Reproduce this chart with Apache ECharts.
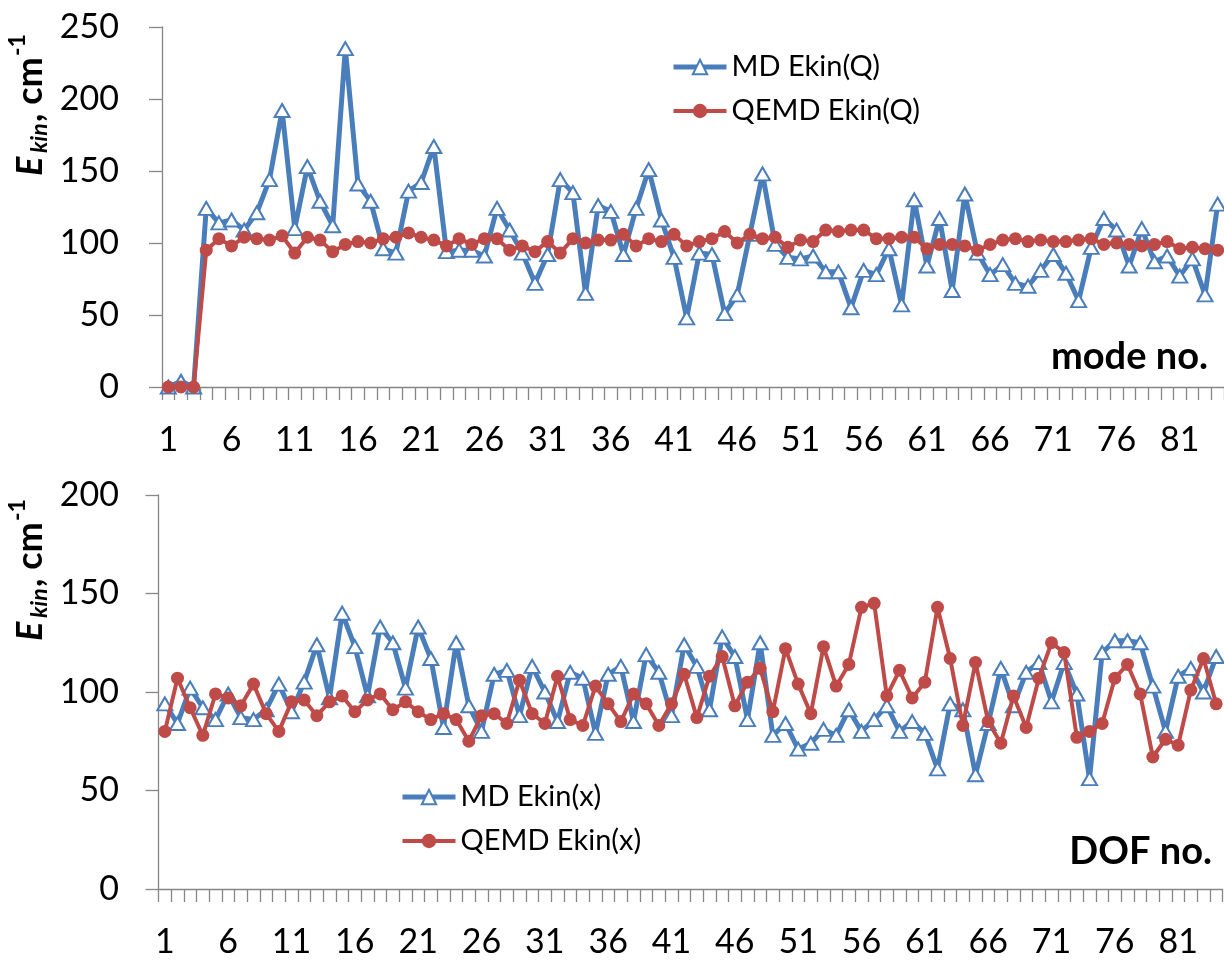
<!DOCTYPE html>
<html>
<head>
<meta charset="utf-8">
<title>Ekin per mode / DOF</title>
<script src="https://cdn.jsdelivr.net/npm/echarts@6/dist/echarts.min.js"></script>
<style>
  html, body { margin: 0; padding: 0; background: #fff; }
</style>
</head>
<body>
<div id="main" style="width: 1224px;height:960px;"></div>
<script>
// category axis (mode / DOF number)
var cats = ['1','2','3','4','5','6','7','8','9','10','11','12','13','14','15','16','17','18','19','20',
  '21','22','23','24','25','26','27','28','29','30','31','32','33','34','35','36','37','38','39','40',
  '41','42','43','44','45','46','47','48','49','50','51','52','53','54','55','56','57','58','59','60',
  '61','62','63','64','65','66','67','68','69','70','71','72','73','74','75','76','77','78','79','80',
  '81','82','83','84'];

// top panel: kinetic energy per normal mode, cm-1
var mdQ = [0, 4, 0, 124, 114, 116, 109, 121, 144, 192, 110, 153, 129, 112, 235, 141, 129, 96, 93, 136,
  142, 167, 94, 95, 95, 91, 124, 109, 93, 72, 92, 144, 135, 65, 126, 122, 92, 124, 151, 116,
  90, 48, 93, 92, 51, 64, 106, 148, 99, 90, 89, 91, 80, 80, 55, 81, 78, 96, 57, 130,
  84, 117, 67, 134, 93, 78, 85, 72, 70, 81, 92, 79, 60, 97, 117, 109, 84, 110, 87, 91,
  77, 89, 64, 127];
var qemdQ = [0, 0, 0, 95, 103, 98, 104, 103, 102, 105, 93, 104, 102, 94, 99, 101, 100, 103, 104, 107,
  104, 102, 98, 103, 99, 103, 103, 95, 98, 94, 101, 93, 103, 100, 102, 102, 106, 98, 103, 101,
  106, 98, 101, 103, 108, 100, 106, 103, 104, 97, 102, 101, 109, 108, 109, 109, 103, 103, 104, 104,
  96, 99, 99, 98, 95, 99, 102, 103, 101, 102, 101, 101, 102, 103, 99, 100, 99, 98, 99, 101,
  96, 97, 96, 95];

// bottom panel: kinetic energy per cartesian DOF, cm-1
var mdX = [94, 84, 102, 92, 86, 99, 87, 86, 91, 104, 90, 105, 124, 97, 140, 123, 98, 133, 125, 102,
  133, 117, 82, 125, 93, 80, 109, 111, 88, 113, 100, 85, 110, 107, 79, 109, 113, 85, 119, 110,
  88, 124, 113, 91, 128, 118, 86, 125, 78, 84, 71, 74, 81, 78, 91, 80, 86, 93, 80, 85,
  79, 61, 94, 91, 58, 84, 112, 93, 110, 115, 95, 115, 99, 56, 120, 126, 126, 125, 103, 80,
  108, 112, 100, 118];
var qemdX = [80, 107, 92, 78, 99, 97, 93, 104, 89, 80, 95, 96, 88, 95, 98, 90, 96, 99, 91, 95,
  90, 86, 89, 86, 75, 88, 89, 84, 106, 89, 84, 108, 86, 83, 103, 94, 85, 99, 94, 83,
  94, 109, 87, 108, 118, 93, 105, 112, 90, 122, 104, 89, 123, 103, 114, 143, 145, 98, 111, 97,
  105, 143, 117, 83, 115, 85, 74, 98, 82, 107, 125, 120, 77, 80, 84, 107, 114, 99, 67, 76,
  73, 101, 117, 94];

var yTopMax = 250;
var yBotMax = 200;
var yStep = 50;

var BLUE = '#4a7ebb';
var RED = '#be4b48';
var AXIS = '#868686';
var FONT = 'Lato, "Open Sans", sans-serif';

var myChart = echarts.init(document.getElementById('main'));

function xAxisOpt(gridIndex) {
  return {
    type: 'category',
    gridIndex: gridIndex,
    data: cats,
    boundaryGap: true,
    axisLine: { lineStyle: { color: AXIS, width: 1.3 } },
    axisTick: { show: true, interval: 0, length: 13, lineStyle: { color: AXIS, width: 1.3 } },
    axisLabel: { interval: 4, fontSize: 34, lineHeight: 34, margin: 36, color: '#000', fontFamily: FONT },
    splitLine: { show: false }
  };
}

function yAxisOpt(gridIndex, max, margin) {
  return {
    type: 'value',
    gridIndex: gridIndex,
    min: 0,
    max: max,
    interval: yStep,
    axisLine: { show: true, lineStyle: { color: AXIS, width: 1.3 } },
    axisTick: { show: true, length: 13, lineStyle: { color: AXIS, width: 1.3 } },
    axisLabel: { fontSize: 34, margin: margin, color: '#000', fontFamily: FONT },
    splitLine: { show: false }
  };
}

function mdSeries(name, data, idx) {
  return {
    name: name,
    type: 'line',
    xAxisIndex: idx,
    yAxisIndex: idx,
    data: data,
    symbol: 'triangle',
    symbolSize: [15, 13],
    showAllSymbol: true,
    lineStyle: { color: BLUE, width: 5 },
    itemStyle: { color: '#fff', borderColor: BLUE, borderWidth: 2 },
    z: 2
  };
}

function qemdSeries(name, data, idx) {
  return {
    name: name,
    type: 'line',
    xAxisIndex: idx,
    yAxisIndex: idx,
    data: data,
    symbol: 'circle',
    symbolSize: 13,
    showAllSymbol: true,
    lineStyle: { color: RED, width: 4 },
    itemStyle: { color: RED, borderColor: RED, borderWidth: 0 },
    z: 3
  };
}

function legendOpt(mdName, qemdName, left, top) {
  return {
    data: [
      { name: mdName, lineStyle: { width: 5 } },
      { name: qemdName, lineStyle: { width: 4 } }
    ],
    orient: 'vertical',
    left: left,
    top: top,
    itemWidth: 53,
    itemHeight: 18,
    itemGap: 14,
    textStyle: { fontSize: 29, lineHeight: 30, color: '#000', fontFamily: FONT }
  };
}

// rotated axis title "E_kin, cm^-1", laid out piece by piece
function yTitle(cx, cy) {
  var big = 'bold 36px Lato, sans-serif';
  var bigIt = 'italic bold 36px Lato, sans-serif';
  var small = 'bold 23px Lato, sans-serif';
  var smallIt = 'italic bold 23px Lato, sans-serif';
  return {
    type: 'group',
    x: cx,
    y: cy,
    rotation: Math.PI / 2,
    children: [
      { type: 'text', x: -72, y: 0, style: { text: 'E', font: bigIt, fill: '#000', verticalAlign: 'middle' } },
      { type: 'text', x: -49, y: 10, style: { text: 'kin', font: smallIt, fill: '#000', verticalAlign: 'middle' } },
      { type: 'text', x: -18, y: 0, style: { text: ', cm', font: big, fill: '#000', verticalAlign: 'middle' } },
      { type: 'text', x: 48, y: -12, style: { text: '-1', font: small, fill: '#000', verticalAlign: 'middle' } }
    ]
  };
}

var option = {
  backgroundColor: '#fff',
  animation: false,
  grid: [
    { left: 162, top: 27, width: 1064, height: 360 },
    { left: 158.5, top: 495, width: 1064, height: 394 }
  ],
  legend: [
    legendOpt('MD Ekin(Q)', 'QEMD Ekin(Q)', 666, 47),
    legendOpt('MD Ekin(x)', 'QEMD Ekin(x)', 395, 777)
  ],
  xAxis: [xAxisOpt(0), xAxisOpt(1)],
  yAxis: [yAxisOpt(0, yTopMax, 43), yAxisOpt(1, yBotMax, 39.5)],
  series: [
    mdSeries('MD Ekin(Q)', mdQ, 0),
    qemdSeries('QEMD Ekin(Q)', qemdQ, 0),
    mdSeries('MD Ekin(x)', mdX, 1),
    qemdSeries('QEMD Ekin(x)', qemdX, 1)
  ],
  graphic: [
    yTitle(30, 104),
    yTitle(30, 569),
    {
      type: 'text', x: 1208, y: 357,
      style: { text: 'mode no.', font: 'bold 38px Lato, sans-serif', fill: '#000', align: 'right', verticalAlign: 'middle' }
    },
    {
      type: 'text', x: 1212, y: 852,
      style: { text: 'DOF no.', font: 'bold 38px Lato, sans-serif', fill: '#000', align: 'right', verticalAlign: 'middle' }
    }
  ]
};

myChart.setOption(option);
</script>
</body>
</html>
